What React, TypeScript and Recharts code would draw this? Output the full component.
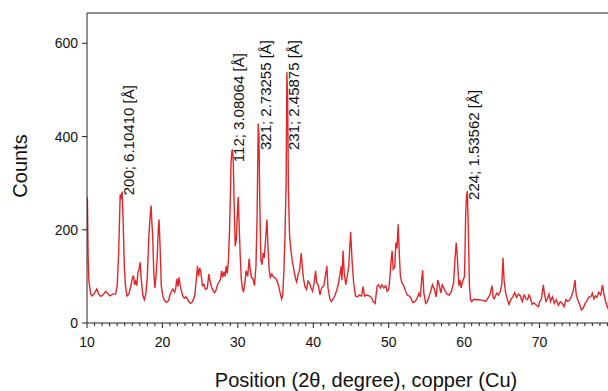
import { LineChart, Line, XAxis, YAxis, ReferenceLine, ReferenceDot, Label } from 'recharts';

// XRD pattern
const twoTheta = [
  10.0, 10.05, 10.15, 10.25, 10.5, 10.7, 11.0, 11.3, 11.55, 11.8, 12.1, 12.5, 12.8, 13.05, 13.4, 13.8,
  14.0, 14.2, 14.4, 14.5, 14.65, 14.8, 14.95, 15.1, 15.3, 15.55, 15.8, 16.0, 16.15, 16.3, 16.45, 16.6,
  16.75, 16.9, 17.05, 17.2, 17.4, 17.6, 17.8, 18.0, 18.2, 18.35, 18.5, 18.6, 18.7, 18.85, 19.0, 19.15,
  19.3, 19.45, 19.55, 19.7, 19.85, 20.0, 20.2, 20.5, 20.8, 21.0, 21.2, 21.4, 21.6, 21.75, 21.9, 22.05,
  22.2, 22.35, 22.5, 22.7, 22.9, 23.1, 23.3, 23.5, 23.7, 23.9, 24.1, 24.3, 24.5, 24.65, 24.8, 24.95,
  25.1, 25.3, 25.5, 25.7, 25.95, 26.15, 26.3, 26.5, 26.7, 26.9, 27.1, 27.3, 27.5, 27.7, 27.85, 28.0,
  28.15, 28.3, 28.45, 28.6, 28.75, 28.9, 29.0, 29.1, 29.2, 29.3, 29.4, 29.5, 29.65, 29.8, 29.95, 30.05,
  30.15, 30.3, 30.45, 30.6, 30.75, 30.95, 31.1, 31.3, 31.5, 31.6, 31.8, 32.0, 32.2, 32.4, 32.55, 32.7,
  32.8, 32.9, 33.05, 33.2, 33.35, 33.5, 33.65, 33.85, 34.0, 34.15, 34.3, 34.5, 34.75, 35.0, 35.2, 35.4,
  35.6, 35.8, 35.95, 36.1, 36.25, 36.4, 36.5, 36.6, 36.7, 36.85, 37.0, 37.2, 37.45, 37.65, 37.8, 38.0,
  38.2, 38.4, 38.55, 38.7, 38.9, 39.1, 39.3, 39.5, 39.7, 39.9, 40.1, 40.3, 40.45, 40.65, 40.9, 41.1,
  41.4, 41.6, 41.8, 41.95, 42.2, 42.4, 42.65, 42.9, 43.1, 43.3, 43.5, 43.7, 43.8, 43.95, 44.1, 44.3,
  44.5, 44.7, 44.95, 45.15, 45.35, 45.6, 45.85, 46.1, 46.4, 46.6, 46.8, 47.1, 47.4, 47.7, 47.95, 48.2,
  48.45, 48.65, 48.9, 49.1, 49.35, 49.6, 49.8, 50.0, 50.15, 50.3, 50.45, 50.6, 50.8, 50.95, 51.1, 51.25,
  51.4, 51.55, 51.75, 52.0, 52.25, 52.45, 52.7, 52.9, 53.2, 53.5, 53.75, 54.0, 54.2, 54.4, 54.5, 54.65,
  54.9, 55.1, 55.3, 55.55, 55.8, 56.05, 56.3, 56.5, 56.7, 56.9, 57.1, 57.3, 57.5, 57.75, 58.0, 58.3,
  58.6, 58.8, 58.95, 59.1, 59.3, 59.45, 59.6, 59.75, 59.9, 60.05, 60.2, 60.3, 60.42, 60.55, 60.7, 60.85,
  61.0, 61.3, 61.6, 61.97, 62.3, 62.6, 62.85, 63.1, 63.4, 63.55, 63.7, 63.85, 64.0, 64.3, 64.55, 64.8,
  65.0, 65.15, 65.3, 65.5, 65.75, 65.95, 66.2, 66.45, 66.7, 66.95, 67.2, 67.45, 67.7, 67.95, 68.2, 68.4,
  68.6, 68.8, 69.0, 69.25, 69.6, 69.85, 70.0, 70.25, 70.5, 70.65, 70.85, 71.05, 71.25, 71.45, 71.7, 71.95,
  72.2, 72.5, 72.75, 73.0, 73.25, 73.5, 73.75, 74.0, 74.2, 74.45, 74.7, 74.85, 75.05, 75.3, 75.55, 75.8,
  76.05, 76.3, 76.55, 76.8, 77.0, 77.2, 77.4, 77.6, 77.85, 78.1, 78.35, 78.55, 78.75, 79.0, 79.1,
];

const counts = [
  268, 270, 140, 90, 62, 58, 64, 73, 62, 57, 60, 68, 62, 58, 62, 62,
  80, 150, 276, 265, 282, 215, 120, 80, 58, 62, 78, 95, 102, 82, 90, 80,
  108, 115, 130, 92, 60, 50, 62, 100, 185, 225, 252, 215, 190, 110, 75, 100,
  140, 200, 222, 160, 80, 62, 50, 44, 48, 60, 68, 73, 66, 72, 95, 78,
  98, 80, 70, 58, 53, 56, 52, 46, 42, 44, 50, 60, 95, 122, 100, 118,
  108, 80, 83, 72, 75, 105, 90, 78, 70, 65, 70, 82, 88, 94, 112, 98,
  110, 100, 122, 106, 135, 200, 265, 345, 368, 372, 340, 260, 165, 180, 240, 270,
  220, 150, 95, 75, 66, 90, 112, 100, 138, 120, 98, 95, 80, 122, 230, 428,
  400, 265, 135, 125, 150, 140, 172, 222, 160, 115, 98, 105, 98, 96, 90, 80,
  65, 52, 60, 110, 190, 300, 538, 480, 290, 190, 160, 135, 112, 95, 88, 105,
  115, 150, 120, 95, 78, 72, 90, 85, 75, 68, 85, 112, 86, 82, 60, 75,
  80, 100, 122, 75, 52, 46, 52, 60, 70, 82, 100, 122, 92, 155, 108, 82,
  100, 122, 195, 132, 86, 58, 56, 60, 58, 78, 58, 60, 58, 55, 46, 42,
  78, 82, 75, 82, 75, 80, 68, 72, 96, 130, 155, 115, 120, 172, 160, 212,
  150, 100, 86, 80, 68, 60, 58, 55, 44, 46, 52, 64, 56, 100, 113, 65,
  42, 45, 55, 67, 82, 72, 56, 92, 82, 64, 82, 75, 68, 62, 60, 67,
  86, 140, 172, 140, 80, 92, 75, 86, 94, 100, 230, 270, 283, 205, 80, 50,
  46, 51, 50, 50, 49, 48, 46, 52, 60, 70, 80, 55, 52, 64, 60, 68,
  85, 140, 90, 65, 50, 40, 50, 56, 65, 55, 62, 58, 46, 60, 52, 50,
  60, 53, 40, 43, 38, 35, 45, 52, 82, 62, 46, 52, 62, 46, 56, 42,
  50, 38, 46, 42, 35, 50, 46, 50, 56, 68, 92, 62, 50, 40, 28, 32,
  42, 48, 56, 56, 64, 52, 58, 55, 66, 60, 82, 60, 46, 34, 30,
];

const xTickLabels = [10, 20, 30, 40, 50, 60, 70];
const xMinorTicks = Array.from({ length: 70 }, (_, i) => 10 + i);
const yTicks = [0, 200, 400, 600];

const peakLabels = ['200; 6.10410 [Å]', '112; 3.08064 [Å]', '321; 2.73255 [Å]', '231; 2.45875 [Å]', '224; 1.53562 [Å]'];
const peakPositions = [14.6, 29.2, 32.75, 36.56, 60.4];
const peakLabelBase = [274, 345, 371, 371, 264];

const data = twoTheta.map((t, i) => ({ t, counts: counts[i] }));

const FONT = '"Liberation Sans", Arial, sans-serif';
const AXIS = '#222';
const RED = '#e2272b';

function XTick(props: any) {
  const { x, y, payload } = props;
  const v = payload.value;
  const major = xTickLabels.includes(v);
  return (
    <g>
      <line x1={x} x2={x} y1={y} y2={y + (major ? 5 : 3)} stroke={AXIS} strokeWidth={1} />
      {major && (
        <text x={x} y={y + 24} textAnchor="middle" fontSize={14} fill="#111" fontFamily={FONT}>
          {v}
        </text>
      )}
    </g>
  );
}

const peakLabel = (text: string) => (props: any) => {
  const vb = props.viewBox;
  return (
    <text
      transform={`translate(${vb.x + 12}, ${vb.y}) rotate(-90)`}
      fontSize={15}
      fill="#111"
      fontFamily={FONT}
    >
      {text}
    </text>
  );
};

export default function App() {
  return (
    <div style={{ position: 'absolute', left: 0, top: 0, width: 608, height: 391, overflow: 'hidden', background: '#fff' }}>
      <LineChart width={615} height={391} data={data} margin={{ top: 13, right: 0, left: 0, bottom: 0 }}>
        <XAxis
          dataKey="t"
          type="number"
          domain={[10, 80]}
          ticks={xMinorTicks}
          interval={0}
          tickSize={0}
          tickMargin={0}
          tickLine={false}
          tick={<XTick />}
          height={68}
          stroke={AXIS}
          allowDataOverflow
        >
          <Label
            content={(p: any) => {
              const vb = p.viewBox;
              return (
                <text x={vb.x + vb.width / 2 + 15} y={vb.y + 64} textAnchor="middle" fontSize={20} fill="#111" fontFamily={FONT}>
                  Position (2θ, degree), copper (Cu)
                </text>
              );
            }}
          />
        </XAxis>
        <YAxis
          type="number"
          domain={[0, 665]}
          ticks={yTicks}
          width={87}
          tickSize={5}
          tickMargin={4}
          stroke={AXIS}
          tick={{ fontSize: 14, fill: '#111', fontFamily: FONT }}
          allowDataOverflow
        >
          <Label
            content={(p: any) => {
              const vb = p.viewBox;
              const cy = vb.y + vb.height / 2 - 2;
              return (
                <text transform={`translate(27, ${cy}) rotate(-90)`} textAnchor="middle" fontSize={20} fill="#111" fontFamily={FONT}>
                  Counts
                </text>
              );
            }}
          />
        </YAxis>
        <ReferenceLine y={665} stroke={AXIS} strokeWidth={1} />
        <Line type="linear" dataKey="counts" stroke={RED} strokeWidth={1.4} dot={false} isAnimationActive={false} />
        {peakLabels.map((lbl, i) => (
          <ReferenceDot
            key={lbl}
            x={peakPositions[i]}
            y={peakLabelBase[i]}
            r={0}
            fill="none"
            stroke="none"
            label={peakLabel(lbl)}
          />
        ))}
      </LineChart>
    </div>
  );
}
